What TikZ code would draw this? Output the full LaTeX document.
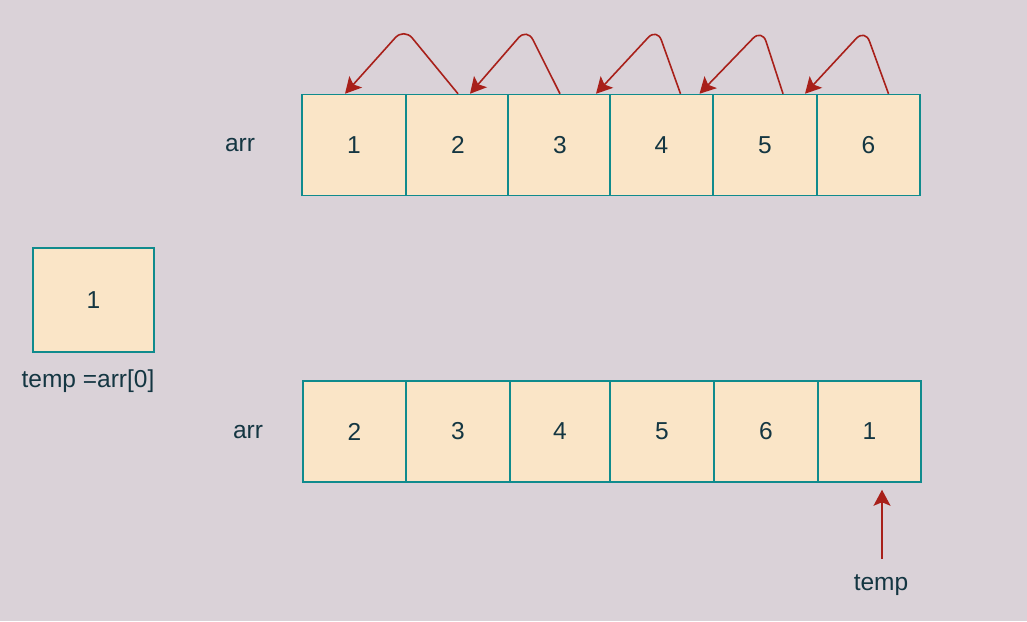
\documentclass[tikz,border=0pt]{standalone}
\usepackage{fontspec}
\setmainfont{Liberation Sans}
\usetikzlibrary{arrows.meta,calc}
\definecolor{bgc}{HTML}{DAD2D8}
\definecolor{cellfill}{HTML}{FAE5C7}
\definecolor{cellline}{HTML}{0F8B8D}
\definecolor{txtc}{HTML}{143642}
\definecolor{edgec}{HTML}{A8201A}
\tikzset{
  cell/.style={draw=cellline, fill=cellfill, line width=1.5pt, inner sep=0pt, text=txtc,
     font=\fontsize{24.5}{28}\selectfont, minimum height=101pt},
  lbl/.style={text=txtc, font=\fontsize{24.5}{28}\selectfont, inner sep=0pt},
  link/.style={draw=edgec, line width=1.6pt, rounded corners=13pt, -{Stealth[length=16pt,width=17pt,inset=3.5pt]}}
}
\begin{document}
\begin{tikzpicture}[x=1pt,y=-1pt]
\fill[bgc] (0,0) rectangle (1027,621);
\useasboundingbox (0,0) rectangle (1027,621);
% top array
\node[cell, minimum width=104pt] (t1) at (354,145) {1};
\node[cell, minimum width=104pt] (t2) at (458,145) {2};
\node[cell, minimum width=104pt] (t3) at (560,145) {3};
\node[cell, minimum width=103pt] (t4) at (661.5,145) {4};
\node[cell, minimum width=104pt] (t5) at (765,145) {5};
\node[cell, minimum width=103pt] (t6) at (868.5,145) {6};
\node[lbl] (arr1) at (240,145) {arr};
% bottom array
\node[cell, minimum width=103pt] (b1) at (354.5,431.5) {2};
\node[cell, minimum width=104pt] (b2) at (458,431.5) {3};
\node[cell, minimum width=100pt] (b3) at (560,431.5) {4};
\node[cell, minimum width=104pt] (b4) at (662,431.5) {5};
\node[cell, minimum width=104pt] (b5) at (766,431.5) {6};
\node[cell, minimum width=103pt] (b6) at (869.5,431.5) {1};
\node[lbl] (arr2) at (248,432) {arr};
% temp box
\node[cell, minimum width=121pt, minimum height=104pt] (tmp) at (93.5,300) {1};
\node[lbl] (tmplbl) at (88,381) {temp =arr[0]};
% top arrows
\coordinate (p1) at (404,28);
\coordinate (p2) at (527,28);
\coordinate (p3) at (657,28);
\coordinate (p4) at (762,29);
\coordinate (p5) at (865,29);
\draw[link] ([xshift=0pt]t2.north) -- (p1) -- ([xshift=-9pt]t1.north);
\draw[link] ([xshift=0pt]t3.north) -- (p2) -- ([xshift=12pt]t2.north);
\draw[link] ([xshift=19pt]t4.north) -- (p3) -- ([xshift=36pt]t3.north);
\draw[link] ([xshift=18pt]t5.north) -- (p4) -- ([xshift=38pt]t4.north);
\draw[link] ([xshift=20pt]t6.north) -- (p5) -- ([xshift=40pt]t5.north);
% bottom arrow
\node[lbl] (templ) at (881,585) {temp};
\coordinate (ts) at (882,559);
\draw[link] (ts) -- ([xshift=12.5pt,yshift=-7pt]b6.south);
\end{tikzpicture}
\end{document}
